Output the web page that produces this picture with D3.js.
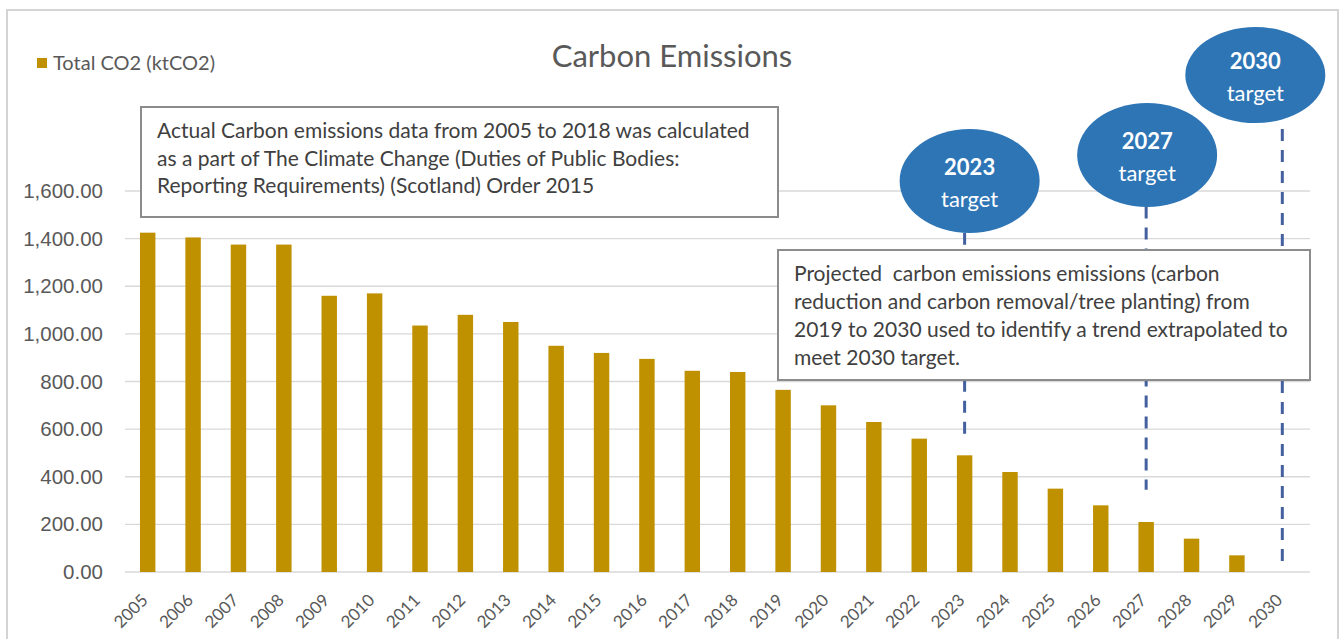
<!DOCTYPE html>
<html>
<head>
<meta charset="utf-8">
<script src="https://cdn.jsdelivr.net/npm/d3@7/dist/d3.min.js"></script>
<style>
  body { margin: 0; background: #fff; }
  svg { font-family: Lato, 'Open Sans', sans-serif; }
</style>
</head>
<body>
<svg width="1343" height="639"></svg>
<script>
const years = ['2005', '2006', '2007', '2008', '2009', '2010', '2011', '2012', '2013',
    '2014', '2015', '2016', '2017', '2018', '2019', '2020', '2021', '2022', '2023',
    '2024', '2025', '2026', '2027', '2028', '2029', '2030'];
const totalCO2 = [1425, 1405, 1375, 1375, 1160, 1170, 1035, 1080, 1050,
    950, 920, 895, 845, 840, 765, 700, 630, 560, 490,
    420, 350, 280, 210, 140, 70, 0];
const yTicks = [0, 200, 400, 600, 800, 1000, 1200, 1400, 1600];

const targetYears = ['2023', '2027', '2030'];
const targetLineEnds = [555, 345, 20];   // where the dashed drop lines stop (ktCO2)

const actualNote = [
    'Actual Carbon emissions data from 2005 to 2018 was calculated',
    'as a part of The Climate Change (Duties of Public Bodies:',
    'Reporting Requirements) (Scotland) Order 2015'
];
const projectedNote = [
    'Projected  carbon emissions emissions (carbon',
    'reduction and carbon removal/tree planting) from',
    '2019 to 2030 used to identify a trend extrapolated to',
    'meet 2030 target.'
];

const data = years.map((year, i) => ({ year: year, value: totalCO2[i] }));

const xScale = d3.scaleBand()
    .domain(years)
    .range([125, 1305])
    .paddingInner(0.66)
    .paddingOuter(0.33);
const yScale = d3.scaleLinear().domain([0, 1600]).range([572, 191]);
const cx = year => xScale(year) + xScale.bandwidth() / 2;

const svg = d3.select('svg');

// chart frame
svg.append('rect')
    .attr('x', 7).attr('y', 10)
    .attr('width', 1331).attr('height', 640)
    .attr('fill', 'none')
    .attr('stroke', '#d4d4d4')
    .attr('stroke-width', 2);

// gridlines
svg.append('g')
    .selectAll('line')
    .data(yTicks)
    .enter()
    .append('line')
    .attr('x1', 125).attr('x2', 1310)
    .attr('y1', d => yScale(d)).attr('y2', d => yScale(d))
    .attr('stroke', '#d9d9d9')
    .attr('stroke-width', 1.3);

// y axis labels
const yAxis = svg.append('g')
    .attr('transform', 'translate(110,0)')
    .call(d3.axisLeft(yScale).tickValues(yTicks).tickFormat(d3.format(',.2f')).tickSize(0).tickPadding(7));
yAxis.select('.domain').remove();
yAxis.selectAll('text')
    .attr('fill', '#595959')
    .style('font-size', '20.5px');

// x axis labels
svg.append('g')
    .selectAll('text')
    .data(years)
    .enter()
    .append('text')
    .attr('transform', d => `translate(${cx(d) - 3},${597}) rotate(-45)`)
    .attr('text-anchor', 'end')
    .attr('dy', '0.35em')
    .attr('fill', '#595959')
    .style('font-size', '17px')
    .text(d => d);

// bars
svg.append('g')
    .selectAll('rect')
    .data(data)
    .enter()
    .append('rect')
    .attr('x', d => xScale(d.year))
    .attr('width', xScale.bandwidth())
    .attr('y', d => yScale(d.value))
    .attr('height', d => yScale(0) - yScale(d.value))
    .attr('fill', '#bf9000');

// dashed target lines
const targetTops = [1425, 1535, 1860];
svg.append('g')
    .selectAll('line')
    .data(targetYears)
    .enter()
    .append('line')
    .attr('x1', d => cx(d)).attr('x2', d => cx(d))
    .attr('y1', (d, i) => yScale(targetTops[i]))
    .attr('y2', (d, i) => yScale(targetLineEnds[i]))
    .attr('stroke', '#44609f')
    .attr('stroke-width', 3)
    .attr('stroke-dasharray', '12,9');

// note boxes
function noteBox(x, y, w, h, lines, lineGap) {
    const g = svg.append('g');
    g.append('rect')
        .attr('x', x).attr('y', y)
        .attr('width', w).attr('height', h)
        .attr('fill', '#fff')
        .attr('stroke', '#8c8c8c')
        .attr('stroke-width', 2);
    g.selectAll('text')
        .data(lines)
        .enter()
        .append('text')
        .attr('x', x + 16)
        .attr('y', (d, i) => y + 31 + i * lineGap)
        .attr('fill', '#404040')
        .style('font-size', '21px')
        .style('white-space', 'pre')
        .text(d => d);
}
noteBox(141, 107, 637, 110, actualNote, 27.5);
noteBox(778, 250, 532, 130, projectedNote, 28);

// target ellipses
const ellipseX = [cx('2023') + 5, cx('2027') + 1, cx('2030') - 27];
const ellipseY = [1642, 1751, 2087];
const ellipseRy = [52, 52, 48];
const targets = svg.append('g')
    .selectAll('g')
    .data(targetYears)
    .enter()
    .append('g')
    .attr('transform', (d, i) => `translate(${ellipseX[i]},${yScale(ellipseY[i])})`);
targets.append('ellipse')
    .attr('rx', 70)
    .attr('ry', (d, i) => ellipseRy[i])
    .attr('fill', '#2e75b6');
targets.append('text')
    .attr('y', -6)
    .attr('text-anchor', 'middle')
    .attr('fill', '#fff')
    .style('font-size', '22px')
    .style('font-weight', 'bold')
    .text(d => d);
targets.append('text')
    .attr('y', 26)
    .attr('text-anchor', 'middle')
    .attr('fill', '#fff')
    .style('font-size', '22px')
    .text('target');

// title and legend
svg.append('text')
    .attr('x', 672).attr('y', 67)
    .attr('text-anchor', 'middle')
    .attr('fill', '#595959')
    .style('font-size', '31px')
    .text('Carbon Emissions');

svg.append('rect')
    .attr('x', 37).attr('y', 58)
    .attr('width', 10).attr('height', 10)
    .attr('fill', '#bf9000');
svg.append('text')
    .attr('x', 53).attr('y', 70)
    .attr('fill', '#595959')
    .style('font-size', '20px')
    .text('Total CO2 (ktCO2)');
</script>
</body>
</html>
